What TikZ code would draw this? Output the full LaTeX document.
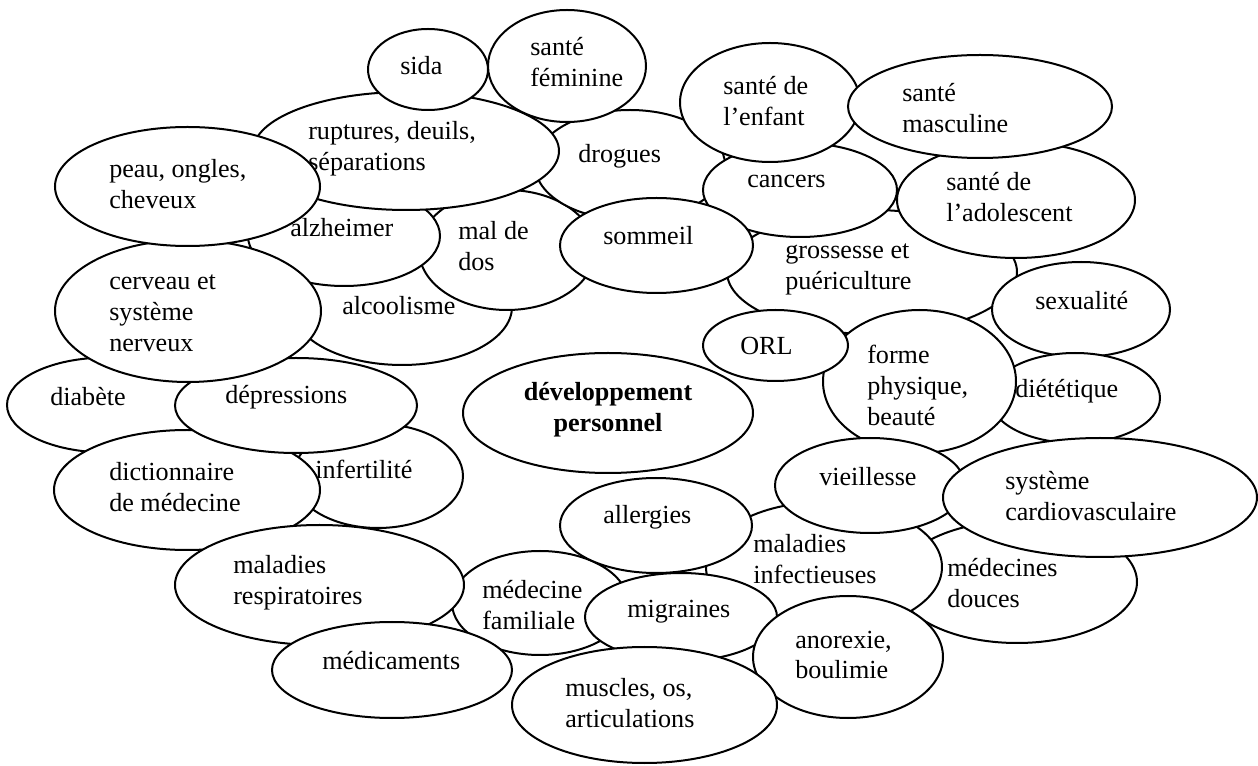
\documentclass[tikz,border=0pt]{standalone}
\usepackage{fontspec}
\setmainfont{Liberation Serif}
\begin{document}
\begin{tikzpicture}[x=0.75pt,y=-0.75pt,
  ell/.style={draw=black, line width=1.5pt, fill=white},
  lbl/.style={anchor=west, inner sep=0pt, align=left,
    font=\fontsize{19.6}{23.2}\selectfont},
  hub/.style={anchor=center, inner sep=0pt, align=center,
    font=\fontsize{19.6}{23.2}\selectfont\bfseries}]
\path[use as bounding box] (0,0) rectangle (1258,766);

% back layer: upper left cluster
\path[ell] (402,307) ellipse [x radius=110, y radius=58];
\node[lbl] (alcoolisme) at (342,306) {alcoolisme};
\path[ell] (507,250) ellipse [x radius=88, y radius=60];
\node[lbl] (maldedos) at (458,246) {mal de\\dos};
\path[ell] (344,236) ellipse [x radius=96, y radius=50];
\node[lbl] (alzheimer) at (290,228) {alzheimer};
\path[ell] (630,165) ellipse [x radius=95, y radius=55];
\node[lbl] (drogues) at (578,156) {drogues};
\path[ell] (406,151) ellipse [x radius=153, y radius=59];
\node[lbl] (ruptures) at (308,149) {ruptures, deuils,\\séparations};
\path[ell] (567,66) ellipse [x radius=79, y radius=56];
\node[lbl] (feminine) at (530,62) {santé\\féminine};
\path[ell] (428,69.5) ellipse [x radius=60, y radius=40.5];
\node[lbl] (sida) at (400,66) {sida};

% left column
\path[ell] (107,405) ellipse [x radius=100, y radius=47.5];
\node[lbl] (diabete) at (50,397) {diabète};
\path[ell] (378,476) ellipse [x radius=85, y radius=52];
\node[lbl] (infertilite) at (315,469) {infertilité};
\path[ell] (187,490) ellipse [x radius=133, y radius=60];
\node[lbl] (dictionnaire) at (109,487) {dictionnaire\\de médecine};
\path[ell] (296,405.5) ellipse [x radius=121, y radius=47.5];
\node[lbl] (depressions) at (225,397) {dépressions};
\path[ell] (188,311) ellipse [x radius=133, y radius=71];
\node[lbl] (cerveau) at (109,313) {cerveau et\\système\\nerveux};
\path[ell] (187.5,186.5) ellipse [x radius=132.5, y radius=59.5];
\node[lbl] (peau) at (109,184) {peau, ongles,\\cheveux};

% upper right cluster
\path[ell] (872,272) ellipse [x radius=145, y radius=62];
\node[lbl] (grossesse) at (785,269) {grossesse et\\puériculture};
\path[ell] (800,190) ellipse [x radius=97, y radius=47];
\node[lbl] (cancers) at (747,181) {cancers};
\path[ell] (656.5,245.5) ellipse [x radius=96.5, y radius=47.5];
\node[lbl] (sommeil) at (603,236) {sommeil};
\path[ell] (770,102.5) ellipse [x radius=90, y radius=59.5];
\node[lbl] (enfant) at (723,101) {santé de\\l’enfant};
\path[ell] (1016,200) ellipse [x radius=119, y radius=58];
\node[lbl] (adolescent) at (946,197) {santé de\\l’adolescent};
\path[ell] (980,106.5) ellipse [x radius=132, y radius=51.5];
\node[lbl] (masculine) at (902,108) {santé\\masculine};

% right side
\path[ell] (1081,309.5) ellipse [x radius=89, y radius=47.5];
\node[lbl] (sexualite) at (1035,301) {sexualité};
\path[ell] (1075,398) ellipse [x radius=85, y radius=45];
\node[lbl] (dietetique) at (1015,391) {diététique};
\path[ell] (919.5,381.5) ellipse [x radius=96.5, y radius=71.5];
\node[lbl] (forme) at (867,385) {forme\\physique,\\beauté};
\path[ell] (775.5,345.5) ellipse [x radius=72.5, y radius=35.5];
\node[lbl] (orl) at (740,346) {ORL};

% central topic
\path[ell] (608,413) ellipse [x radius=145, y radius=60];
\node[hub] (developpement) at (608,410) {développement\\personnel};

% lower right cluster
\path[ell] (1017,582) ellipse [x radius=120, y radius=61];
\node[lbl] (douces) at (947,583) {médecines\\douces};
\path[ell] (540,603) ellipse [x radius=88, y radius=52];
\node[lbl] (familiale) at (482,605) {médecine\\familiale};
\path[ell] (824,567) ellipse [x radius=118, y radius=65];
\node[lbl] (infectieuses) at (753,559) {maladies\\infectieuses};
\path[ell] (656,525.5) ellipse [x radius=96, y radius=47.5];
\node[lbl] (allergies) at (603,517) {allergies};
\path[ell] (681,617) ellipse [x radius=96, y radius=44];
\node[lbl] (migraines) at (627,612) {migraines};
\path[ell] (848,657) ellipse [x radius=95, y radius=61];
\node[lbl] (anorexie) at (795,655) {anorexie,\\boulimie};
\path[ell] (870,485.5) ellipse [x radius=95, y radius=47.5];
\node[lbl] (vieillesse) at (819,477) {vieillesse};
\path[ell] (1100,497.5) ellipse [x radius=157, y radius=59.5];
\node[lbl] (cardio) at (1005,496) {système\\cardiovasculaire};

% bottom left cluster
\path[ell] (319.5,585) ellipse [x radius=144.5, y radius=60];
\node[lbl] (respiratoires) at (233,583) {maladies\\respiratoires};
\path[ell] (392,670) ellipse [x radius=120, y radius=48];
\node[lbl] (medicaments) at (322,661) {médicaments};
\path[ell] (644.5,705) ellipse [x radius=132.5, y radius=58];
\node[lbl] (muscles) at (565,703) {muscles, os,\\articulations};
\end{tikzpicture}
\end{document}
